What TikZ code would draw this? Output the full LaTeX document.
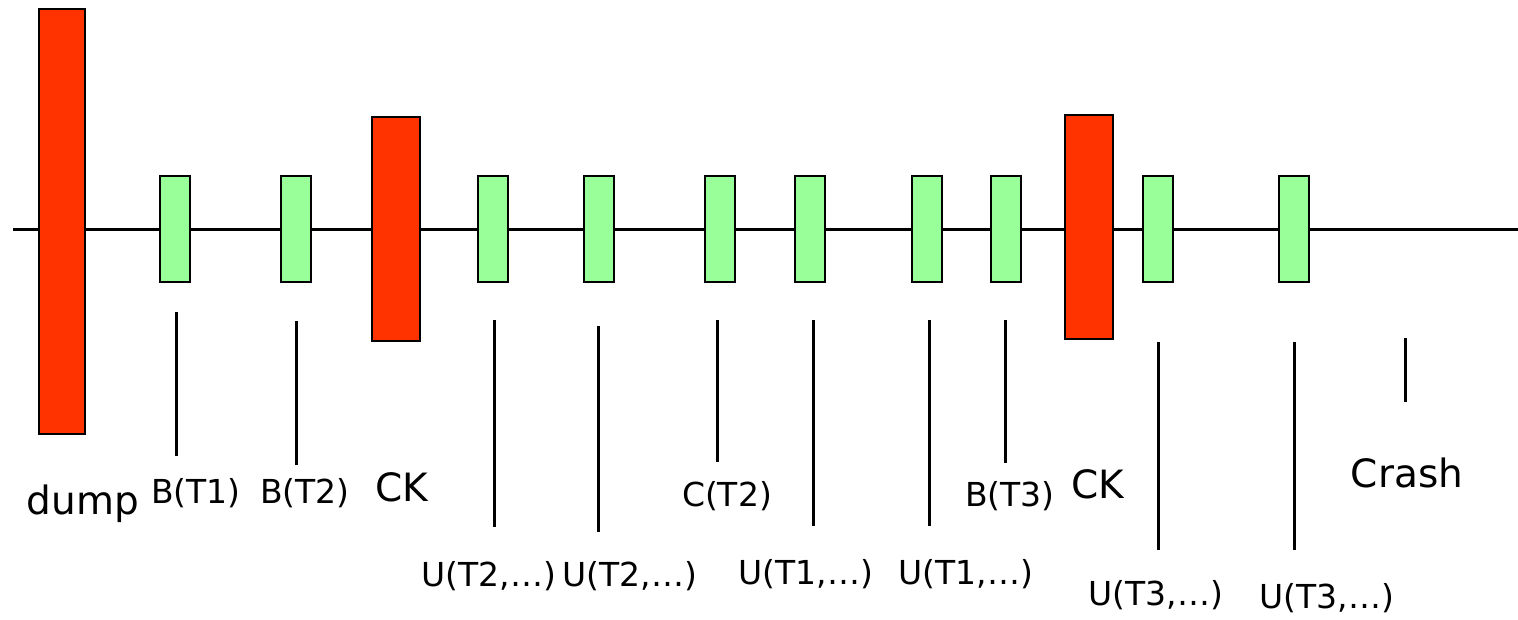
\documentclass[tikz,border=0pt]{standalone}
\usepackage{fontspec}
\setmainfont{DejaVu Sans}
\definecolor{ckred}{HTML}{FF3300}
\definecolor{recgreen}{HTML}{99FF99}
\tikzset{
  logrec/.style={draw=black, line width=1.4pt, fill=recgreen, inner sep=0pt,
    minimum width=15pt, minimum height=53pt},
  ckrec/.style={draw=black, line width=1.4pt, fill=ckred, inner sep=0pt,
    minimum width=24pt, minimum height=112pt},
  tick/.style={line width=1.5pt},
  lbl/.style={anchor=base, inner sep=0pt, font=\fontsize{16.5}{18}\selectfont},
  biglbl/.style={anchor=base, inner sep=0pt, font=\fontsize{19.5}{22}\selectfont}
}

\begin{document}
\begin{tikzpicture}[x=0.5pt, y=-0.5pt]
\useasboundingbox (0,0) rectangle (1518,620);
% the time line
  \coordinate (start) at (13,229);
  \coordinate (end) at (1518,229);
  \draw[tick] (start) -- (end);
% dump and checkpoints
  \node[ckrec, minimum width=23pt, minimum height=212.5pt] (dump) at (62,221.5) {};
  \node[ckrec] (ck1) at (396,229) {};
  \node[ckrec] (ck2) at (1089,227) {};
% log records
  \node[logrec] (r1) at (175,229) {};
  \node[logrec] (r2) at (296,229) {};
  \node[logrec] (r3) at (493,229) {};
  \node[logrec] (r4) at (599,229) {};
  \node[logrec] (r5) at (720,229) {};
  \node[logrec] (r6) at (810,229) {};
  \node[logrec] (r7) at (927,229) {};
  \node[logrec] (r8) at (1006,229) {};
  \node[logrec] (r9) at (1158,229) {};
  \node[logrec] (r10) at (1294,229) {};
% ticks
  \coordinate (k1) at (176,312);  \coordinate (k1e) at (176,456);
  \coordinate (k2) at (296,321);  \coordinate (k2e) at (296,465);
  \coordinate (k3) at (494,320);  \coordinate (k3e) at (494,527);
  \coordinate (k4) at (598,326);  \coordinate (k4e) at (598,532);
  \coordinate (k5) at (717,320);  \coordinate (k5e) at (717,462);
  \coordinate (k6) at (813,320);  \coordinate (k6e) at (813,526);
  \coordinate (k7) at (929,320);  \coordinate (k7e) at (929,526);
  \coordinate (k8) at (1005,320); \coordinate (k8e) at (1005,463);
  \coordinate (k9) at (1158,342); \coordinate (k9e) at (1158,550);
  \coordinate (k10) at (1294,342); \coordinate (k10e) at (1294,550);
  \coordinate (k11) at (1405,338); \coordinate (k11e) at (1405,402);
  \draw[tick] (k1) -- (k1e);
  \draw[tick] (k2) -- (k2e);
  \draw[tick] (k3) -- (k3e);
  \draw[tick] (k4) -- (k4e);
  \draw[tick] (k5) -- (k5e);
  \draw[tick] (k6) -- (k6e);
  \draw[tick] (k7) -- (k7e);
  \draw[tick] (k8) -- (k8e);
  \draw[tick] (k9) -- (k9e);
  \draw[tick] (k10) -- (k10e);
  \draw[tick] (k11) -- (k11e);
% labels
  \node[biglbl] (ldump) at (83,514) {dump};
  \node[lbl] (lb1) at (196,503) {B(T1)};
  \node[lbl] (lb2) at (305,503) {B(T2)};
  \node[biglbl] (lck1) at (402,501) {CK};
  \node[lbl] (lu2a) at (489,586) {U(T2,…)};
  \node[lbl] (lu2b) at (630,586) {U(T2,…)};
  \node[lbl] (lc2) at (727,506) {C(T2)};
  \node[lbl] (lu1a) at (806,584) {U(T1,…)};
  \node[lbl] (lu1b) at (966,584) {U(T1,…)};
  \node[lbl] (lb3) at (1010,506) {B(T3)};
  \node[biglbl] (lck2) at (1098,498) {CK};
  \node[lbl] (lu3a) at (1156,605) {U(T3,…)};
  \node[lbl] (lu3b) at (1327,608) {U(T3,…)};
  \node[biglbl] (lcrash) at (1407,487) {Crash};
\end{tikzpicture}
\end{document}
